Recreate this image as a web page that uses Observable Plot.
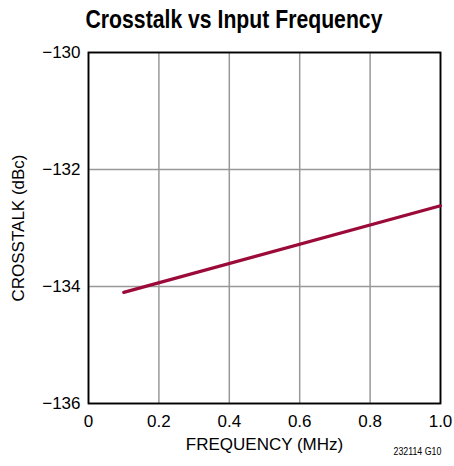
<!DOCTYPE html>
<html><head><meta charset="utf-8">
<script src="https://cdn.jsdelivr.net/npm/d3@7"></script>
<script src="https://cdn.jsdelivr.net/npm/@observablehq/plot@0.6"></script>
<style>
body{margin:0;background:#fff;}
#wrap{position:relative;width:454px;height:466px;overflow:hidden;}
#title{position:absolute;left:0;top:4px;width:468px;text-align:center;font-family:"Liberation Sans",Arial,sans-serif;font-weight:bold;font-size:26.5px;color:#000;transform:scaleX(0.8);transform-origin:234px 0;white-space:nowrap;}
#note{position:absolute;right:13px;top:446px;font-family:"Liberation Sans",Arial,sans-serif;font-size:10px;color:#000;transform:scaleX(0.88);transform-origin:right top;}
#chart{position:absolute;left:0;top:0;}
</style></head>
<body><div id="wrap"><div id="title">Crosstalk vs Input Frequency</div><div id="chart"></div><div id="note">232114 G10</div></div>
<script>
const freqMHz = [0.1, 1.0];
const crosstalkDbc = [-134.1, -132.62];
const xTicks = [0, 0.2, 0.4, 0.6, 0.8, 1.0];
const xTickLabels = ["0", "0.2", "0.4", "0.6", "0.8", "1.0"];
const yTicks = [-136, -134, -132, -130];
const yTickLabels = ["\u2212136", "\u2212134", "\u2212132", "\u2212130"];
const xLabel = "FREQUENCY (MHz)";
const yLabel = "CROSSTALK (dBc)";

const data = freqMHz.map((f, i) => ({f, c: crosstalkDbc[i]}));
const font = '"Liberation Sans",Arial,sans-serif';

const chart = Plot.plot({
  width: 454, height: 466,
  marginTop: 52, marginLeft: 88, marginRight: 14, marginBottom: 63,
  style: {fontFamily: font, fontSize: "16px", color: "#000", background: "transparent"},
  x: {domain: [0, 1]},
  y: {domain: [-136, -130]},
  marks: [
    Plot.gridX(xTicks, {stroke: "#999", strokeOpacity: 1, strokeWidth: 1.5}),
    Plot.gridY(yTicks, {stroke: "#999", strokeOpacity: 1, strokeWidth: 1.5}),
    Plot.frame({stroke: "#000", strokeWidth: 1.8}),
    Plot.line(data, {x: "f", y: "c", stroke: "#9b0a38", strokeWidth: 3.2}),
    Plot.axisX({ticks: xTicks, tickFormat: (d) => xTickLabels[xTicks.indexOf(d)], tickSize: 0, tickPadding: 11, fontSize: 17, label: xLabel, labelAnchor: "center", labelOffset: 46, labelArrow: "none"}),
    Plot.axisY({ticks: yTicks, tickFormat: (d) => yTickLabels[yTicks.indexOf(d)], tickSize: 0, tickPadding: 8, fontSize: 17, label: yLabel, labelAnchor: "center", labelOffset: 77, labelArrow: "none"})
  ]
});
document.getElementById("chart").appendChild(chart);
</script></body></html>
